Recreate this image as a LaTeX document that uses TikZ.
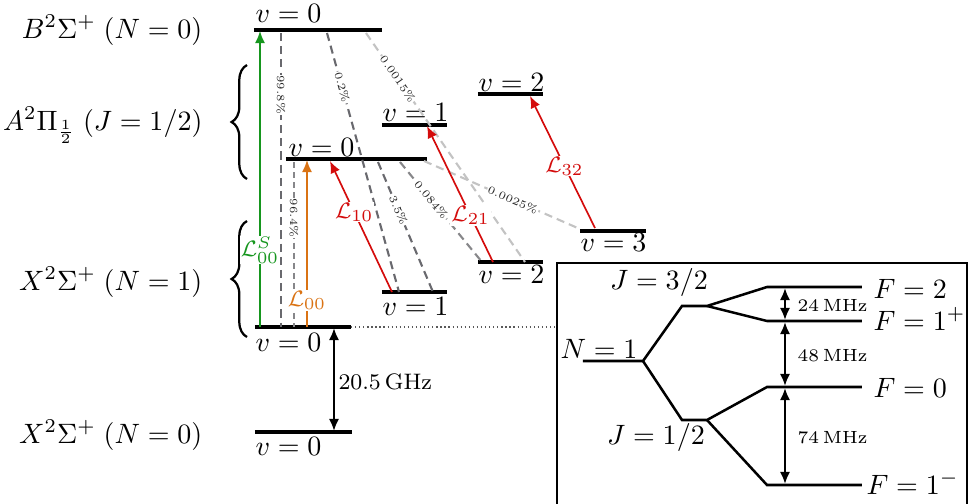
\RequirePackage{fix-cm}
\documentclass[tikz,border=0pt]{standalone}
\usepackage{amsmath}
\usetikzlibrary{arrows.meta,decorations.pathreplacing}
\definecolor{lred}{RGB}{212,12,12}
\definecolor{lorange}{RGB}{218,115,20}
\definecolor{lgreen}{RGB}{22,150,30}
\definecolor{dgray}{RGB}{105,105,110}
\definecolor{mgray}{RGB}{135,135,138}
\definecolor{lgray}{RGB}{195,195,195}
\tikzset{
  level/.style={line width=1.1pt},
  hfs/.style={line width=0.9pt},
  lvl/.style={font=\fontsize{10}{12}\selectfont, inner sep=0pt},
  decay/.style={dash pattern=on 2.9pt off 1.8pt, line width=0.75pt},
  pct/.style={font=\fontsize{3.9}{4.5}\selectfont, text=black!85, fill=white, inner sep=0.3pt, sloped},
  laser/.style={line width=0.6pt, -{Latex[length=4.3pt,width=3.6pt]}},
  llab/.style={font=\fontsize{8}{9}\selectfont, fill=white, inner sep=0.4pt},
  dbl/.style={line width=0.7pt, {Latex[length=4.3pt,width=3.6pt]}-{Latex[length=4.3pt,width=3.6pt]}},
  freq/.style={font=\fontsize{6.3}{7}\selectfont, inner sep=0pt, anchor=west},
  brc/.style={decorate, decoration={brace, amplitude=5.5pt}, line width=0.8pt},
}
\begin{document}
\begin{tikzpicture}[x=0.357pt,y=-0.357pt]
\useasboundingbox (0,0) rectangle (969,503);

% ---------- state labels ----------
\node[lvl, anchor=base east] (lB) at (203,38) {$B^2\Sigma^+\;(N=0)$};
\node[lvl, anchor=base east] (lA) at (203,130) {$A^2\Pi_{\frac{1}{2}}\;(J=1/2)$};
\node[lvl, anchor=base east] (lX1) at (203,290) {$X^2\Sigma^+\;(N=1)$};
\node[lvl, anchor=base east] (lX0) at (203,443) {$X^2\Sigma^+\;(N=0)$};

\coordinate (bA1) at (247,179); \coordinate (bA2) at (247,65);
\coordinate (bX1) at (247,337); \coordinate (bX2) at (247,221);
\draw[brc] (bA1) -- (bA2);
\draw[brc] (bX1) -- (bX2);

% ---------- levels ----------
\coordinate (B0l) at (254,30);  \coordinate (B0r) at (382,30);
\coordinate (A0l) at (286,159); \coordinate (A0r) at (427,159);
\coordinate (A1l) at (382,125); \coordinate (A1r) at (447,125);
\coordinate (A2l) at (478,94);  \coordinate (A2r) at (543,94);
\coordinate (X0l) at (255,327); \coordinate (X0r) at (351,327);
\coordinate (X1l) at (382,292); \coordinate (X1r) at (447,292);
\coordinate (X2l) at (478,262); \coordinate (X2r) at (543,262);
\coordinate (X3l) at (580,231); \coordinate (X3r) at (646,231);
\coordinate (N0l) at (255,432); \coordinate (N0r) at (352,432);

\draw[level] (B0l) -- (B0r);
\draw[level] (A0l) -- (A0r);
\draw[level] (A1l) -- (A1r);
\draw[level] (A2l) -- (A2r);
\draw[level] (X0l) -- (X0r);
\draw[level] (X1l) -- (X1r);
\draw[level] (X2l) -- (X2r);
\draw[level] (X3l) -- (X3r);
\draw[level] (N0l) -- (N0r);

\node[lvl, anchor=base west] (tB0) at (255,22) {$v=0$};
\node[lvl, anchor=base west] (tA0) at (288,156) {$v=0$};
\node[lvl, anchor=base west] (tA1) at (382,121) {$v=1$};
\node[lvl, anchor=base west] (tA2) at (478,91) {$v=2$};
\node[lvl, anchor=base west] (tX0) at (255,351) {$v=0$};
\node[lvl, anchor=base west] (tX1) at (382,315) {$v=1$};
\node[lvl, anchor=base west] (tX2) at (478,283) {$v=2$};
\node[lvl, anchor=base west] (tX3) at (580,251) {$v=3$};
\node[lvl, anchor=base west] (tN0) at (255,455) {$v=0$};

% ---------- decays ----------
\coordinate (d1a) at (281,33);  \coordinate (d1b) at (281,327);
\coordinate (d2a) at (327,33);  \coordinate (d2b) at (399,292);
\coordinate (d3a) at (366,33);  \coordinate (d3b) at (525,262);
\coordinate (d4a) at (294,162); \coordinate (d4b) at (294,327);
\coordinate (d5a) at (378,162); \coordinate (d5b) at (433,292);
\coordinate (d6a) at (400,162); \coordinate (d6b) at (482,262);
\coordinate (d7a) at (424,161); \coordinate (d7b) at (580,229);

\draw[decay, dgray] (d1a) -- node[pct, pos=0.21] (p1) {99.8\%} (d1b);
\draw[decay, dgray] (d2a) -- node[pct, pos=0.21] (p2) {0.2\%} (d2b);
\draw[decay, lgray] (d3a) -- node[pct, pos=0.2] (p3) {0.0015\%} (d3b);
\draw[decay, mgray, dash pattern=on 2.2pt off 1.4pt] (d4a) -- node[pct, pos=0.34] (p4) {96.4\%} (d4b);
\draw[decay, dgray] (d5a) -- node[pct, pos=0.37] (p5) {3.5\%} (d5b);
\draw[decay, mgray] (d6a) -- node[pct, pos=0.38] (p6) {0.084\%} (d6b);
\draw[decay, lgray] (d7a) -- node[pct, pos=0.57] (p7) {0.0025\%} (d7b);

% ---------- lasers ----------
\coordinate (gS) at (260,327); \coordinate (gE) at (260,31);
\coordinate (oS) at (307,327); \coordinate (oE) at (307,160);
\coordinate (r1S) at (392,292); \coordinate (r1E) at (330,161);
\coordinate (r2S) at (493,262); \coordinate (r2E) at (427,126);
\coordinate (r3S) at (595,228); \coordinate (r3E) at (530,96);

\draw[laser, lgreen] (gS) -- node[llab, text=lgreen, pos=0.26] (L00S) {$\mathcal{L}_{00}^{S}$} (gE);
\draw[laser, lorange] (oS) -- node[llab, text=lorange, pos=0.16] (L00) {$\mathcal{L}_{00}$} (oE);
\draw[laser, lred] (r1S) -- node[llab, text=lred, pos=0.61] (L10) {$\mathcal{L}_{10}$} (r1E);
\draw[laser, lred] (r2S) -- node[llab, text=lred, pos=0.34] (L21) {$\mathcal{L}_{21}$} (r2E);
\draw[laser, lred] (r3S) -- node[llab, text=lred, pos=0.47] (L32) {$\mathcal{L}_{32}$} (r3E);

% ---------- rotational splitting ----------
\coordinate (gA) at (334,328); \coordinate (gB) at (334,431);
\draw[dbl] (gA) -- (gB);
\node[font=\fontsize{8}{9.6}\selectfont, inner sep=0pt, anchor=west] (ghz) at (338,382) {$20.5\,\mathrm{GHz}$};

\coordinate (dotB) at (557,327);
\draw[densely dotted, line width=0.45pt, black!65] (X0r) -- (dotB);

% ---------- hyperfine box ----------
\draw[line width=0.8pt] (557,515) -- (557,263) -- (967,263) -- (967,515);

\coordinate (n1a) at (583,361); \coordinate (n1b) at (643,361);
\coordinate (j3a) at (682,306); \coordinate (j3b) at (707,306);
\coordinate (j1a) at (682,420); \coordinate (j1b) at (707,420);
\coordinate (f2a) at (767,287); \coordinate (f2b) at (862,287);
\coordinate (fpa) at (767,321); \coordinate (fpb) at (862,321);
\coordinate (f0a) at (767,387); \coordinate (f0b) at (862,387);
\coordinate (fma) at (767,485); \coordinate (fmb) at (862,485);

\draw[hfs] (n1a) -- (n1b) -- (j3a) -- (j3b) -- (f2a) -- (f2b);
\draw[hfs] (j3b) -- (fpa) -- (fpb);
\draw[hfs] (n1b) -- (j1a) -- (j1b) -- (f0a) -- (f0b);
\draw[hfs] (j1b) -- (fma) -- (fmb);

\node[lvl, anchor=base west] (tN1) at (560,358) {$N=1$};
\node[lvl] (tJ3) at (659,282) {$J=3/2$};
\node[lvl] (tJ1) at (656,437) {$J=1/2$};
\node[lvl, anchor=west] (tF2) at (873,289) {$F=2$};
\node[lvl, anchor=west] (tFp) at (873,319) {$F=1^{+}$};
\node[lvl, anchor=west] (tF0) at (873,388) {$F=0$};
\node[lvl, anchor=west] (tFm) at (866,483) {$F=1^{-}$};

\coordinate (h1) at (785,288); \coordinate (h2) at (785,320);
\coordinate (h3) at (785,322); \coordinate (h4) at (785,386);
\coordinate (h5) at (785,388); \coordinate (h6) at (785,484);
\draw[dbl] (h1) -- (h2);
\draw[dbl] (h3) -- (h4);
\draw[dbl] (h5) -- (h6);
\node[freq] (m24) at (797,305) {$24\,\mathrm{MHz}$};
\node[freq] (m48) at (797,355) {$48\,\mathrm{MHz}$};
\node[freq] (m74) at (797,437) {$74\,\mathrm{MHz}$};
\end{tikzpicture}
\end{document}
